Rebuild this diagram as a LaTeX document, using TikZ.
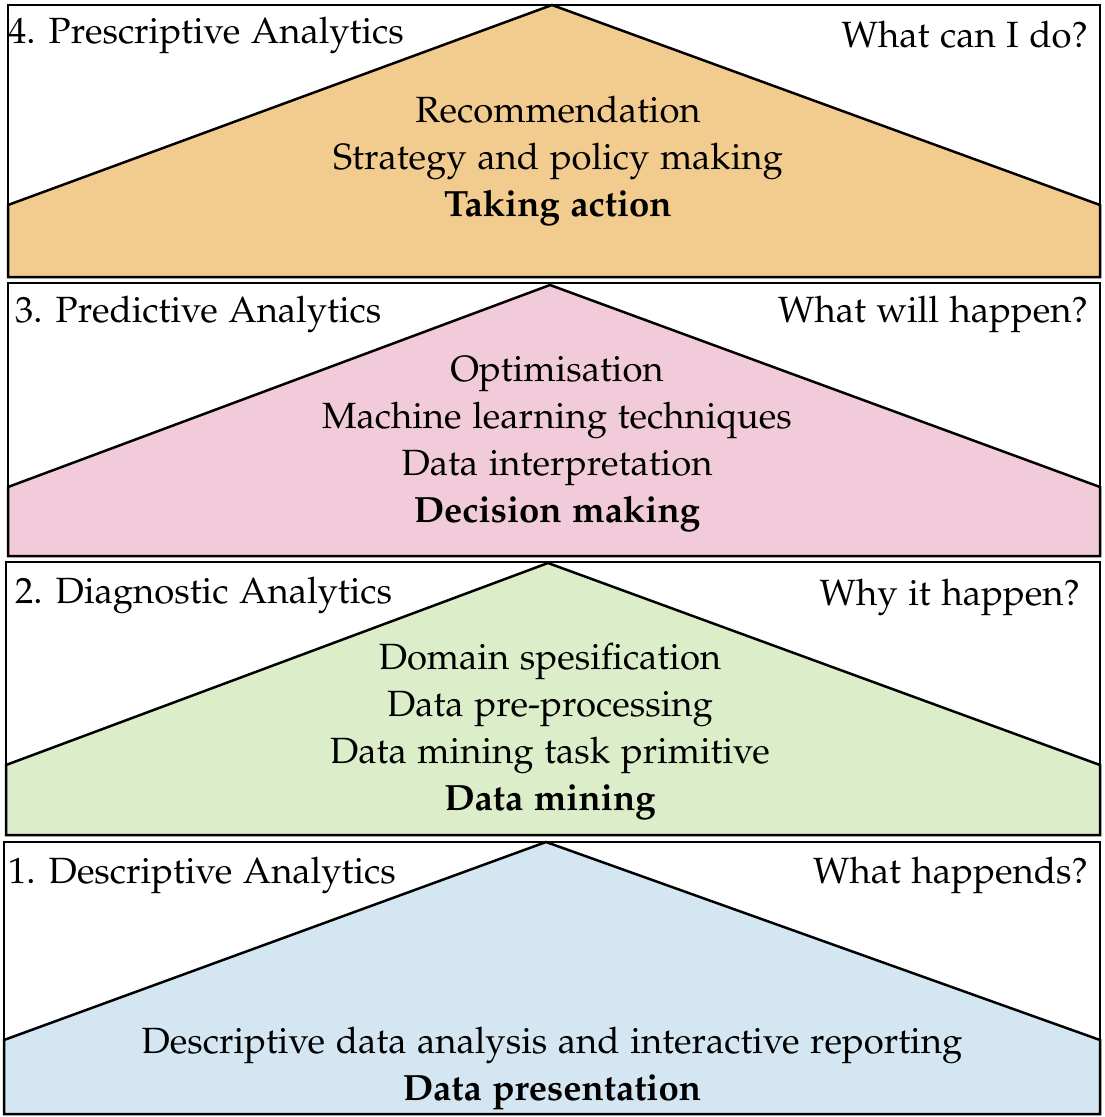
\documentclass[tikz,border=0pt]{standalone}
\usepackage[T1]{fontenc}
\usepackage{mathpazo}
\renewcommand{\rmdefault}{pplx}
\definecolor{c4}{HTML}{F2CC8F}
\definecolor{c3}{HTML}{F2CBDA}
\definecolor{c2}{HTML}{DCEDC9}
\definecolor{c1}{HTML}{D4E6F1}
\tikzset{panel/.style={draw,line width=2.5pt,fill=white},roof/.style={draw,line width=2.5pt,line join=miter},
 txt/.style={font=\fontfamily{pplx}\fontsize{36.5}{47}\selectfont,inner sep=0pt},
 mid/.style={txt,align=center,anchor=north}}
\begin{document}
\begin{tikzpicture}[x=1pt,y=-1pt]
\useasboundingbox (0,0) rectangle (1104,1117);
% panel 4
\draw[panel] (8,5) rectangle (1100,277);
\draw[roof,fill=c4] (8,205) -- (552,5) -- (1100,205) -- (1100,277) -- (8,277) -- cycle;
\node[txt,anchor=west] (t4) at (8,35) {4. Prescriptive Analytics};
\node[txt,anchor=east] (q4) at (1088,35) {What can I do?};
\node[mid] (m4) at (558,96) {Recommendation\\Strategy and policy making\\\textbf{Taking action}};
% panel 3
\draw[panel] (8,283) rectangle (1100,556);
\draw[roof,fill=c3] (8,487) -- (550,285) -- (1100,487) -- (1100,556) -- (8,556) -- cycle;
\node[txt,anchor=west] (t3) at (15,314) {3. Predictive Analytics};
\node[txt,anchor=east] (q3) at (1088,314) {What will happen?};
\node[mid] (m3) at (557,356) {Optimisation\\Machine learning techniques\\Data interpretation\\\textbf{Decision making}};
% panel 2
\draw[panel] (6,562) rectangle (1100,835);
\draw[roof,fill=c2] (6,765) -- (548,563) -- (1100,765) -- (1100,835) -- (6,835) -- cycle;
\node[txt,anchor=west] (t2) at (15,595) {2. Diagnostic Analytics};
\node[txt,anchor=east] (q2) at (1080,597) {Why it happen?};
\node[mid] (m2) at (550,643) {Domain spesification\\Data pre-processing\\Data mining task primitive\\\textbf{Data mining}};
% panel 1
\draw[panel] (4,842) rectangle (1100,1114);
\draw[roof,fill=c1] (4,1040) -- (546,842) -- (1100,1040) -- (1100,1114) -- (4,1114) -- cycle;
\node[txt,anchor=west] (t1) at (8,875) {1. Descriptive Analytics};
\node[txt,anchor=east] (q1) at (1088,875) {What happends?};
\node[mid] (m1) at (552,1027) {Descriptive data analysis and interactive reporting\\\textbf{Data presentation}};
\end{tikzpicture}
\end{document}
